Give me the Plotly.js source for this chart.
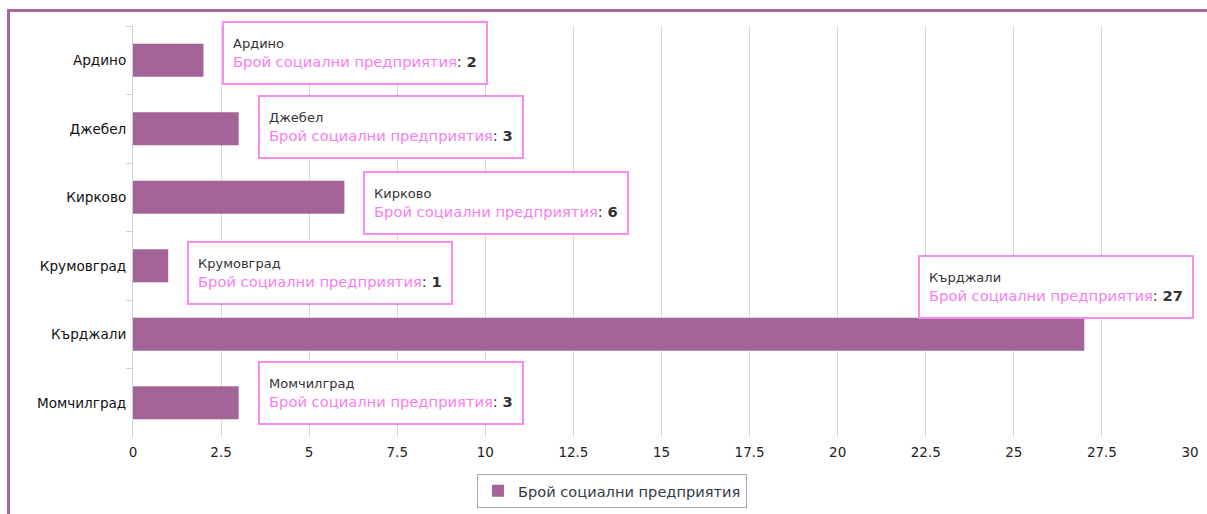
<!DOCTYPE html>
<html>
<head>
<meta charset="utf-8">
<script src="https://cdn.plot.ly/plotly-3.0.1.min.js"></script>
<style>
  html, body { margin: 0; padding: 0; background: #fff; }
  #wrap { position: relative; width: 1207px; height: 514px; overflow: hidden; }
  #chart { position: absolute; left: 0; top: 0; width: 1207px; height: 514px; }
  #frame { position: absolute; left: 7px; top: 9px; width: 1220px; height: 560px;
           border-top: 3px solid #a5669a; border-left: 3px solid #a5669a; pointer-events: none; }
</style>
</head>
<body>
<div id="wrap">
  <div id="chart"></div>
  <div id="frame"></div>
</div>
<script>
const categories = ["Ардино", "Джебел", "Кирково", "Крумовград", "Кърджали", "Момчилград"];
const values = [2, 3, 6, 1, 27, 3];
const seriesName = "Брой социални предприятия";
const xTicks = [0, 2.5, 5, 7.5, 10, 12.5, 15, 17.5, 20, 22.5, 25, 27.5, 30];

const FONT = "DejaVu Sans, Verdana, sans-serif";
const tipYShift = [7, 2, -6, -7, 15, 10];

const annotations = categories.map((c, i) => {
  const text = "<span style='font-size:13px;color:#333333'>" + c + "</span><br>" +
    "<span style='color:#f57ef0'>" + seriesName + "</span>: <b>" + values[i] + "</b>";
  const base = {
    text: text, showarrow: false, align: "left", valign: "middle",
    height: 42,
    bgcolor: "rgba(255,255,255,0.96)", bordercolor: "#f78cf2", borderwidth: 2, borderpad: 9,
    font: { family: FONT, size: 14.7, color: "#333333" },
    yref: "y", y: c
  };
  if (values[i] === Math.max(...values)) {
    return Object.assign(base, { xref: "paper", x: 1, xanchor: "right", xshift: 4,
      yanchor: "bottom", yshift: tipYShift[i] });
  }
  return Object.assign(base, { xref: "x", x: values[i], xanchor: "left", xshift: 19,
    yanchor: "middle", yshift: tipYShift[i] });
});

const trace = {
  type: "bar", orientation: "h",
  y: categories, x: values, name: seriesName,
  marker: { color: "#a46497", line: { color: "#f2a8ec", width: 0 } },
  width: 0.48,
  hoverinfo: "none"
};

const layout = {
  width: 1207, height: 514,
  margin: { l: 133, r: 17, t: 26, b: 77, autoexpand: false },
  paper_bgcolor: "#ffffff", plot_bgcolor: "#ffffff",
  showlegend: true,
  legend: {
    orientation: "h", xref: "container", x: 0.507, xanchor: "center",
    yref: "container", y: 0.045, yanchor: "middle",
    bordercolor: "#a8a8a8", borderwidth: 1, bgcolor: "#ffffff",
    font: { family: FONT, size: 14.6, color: "#333a45" }
  },
  xaxis: {
    range: [0, 30], tickvals: xTicks, ticktext: xTicks.map(String),
    showgrid: true, gridcolor: "#d8d8d8", gridwidth: 1,
    zeroline: false, showline: false, ticks: "",
    ticklabelstandoff: 5,
    tickfont: { family: FONT, size: 13.5, color: "#222222" },
    automargin: false,
    fixedrange: true
  },
  yaxis: {
    type: "category", categoryorder: "array", categoryarray: categories,
    range: [categories.length - 0.5, -0.5], autorange: false,
    showgrid: false, zeroline: false,
    showline: true, linecolor: "#c8d0dc", linewidth: 1,
    ticks: "outside", tickson: "boundaries", ticklen: 6, tickcolor: "#c8d4e4",
    tickfont: { family: FONT, size: 13.6, color: "#111111" },
    ticklabelstandoff: 3,
    automargin: false,
    fixedrange: true
  },
  annotations: annotations
};

Plotly.newPlot("chart", [trace], layout, { displayModeBar: false, staticPlot: true });
</script>
</body>
</html>
